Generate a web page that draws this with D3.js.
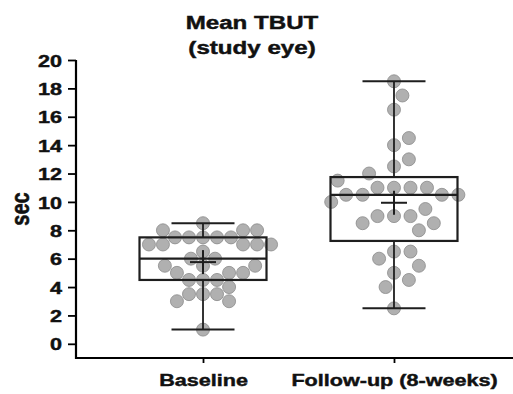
<!DOCTYPE html>
<html lang="en">
<head>
    <meta charset="UTF-8">
    <title>Mean TBUT (study eye)</title>
    <script src="https://d3js.org/d3.v7.min.js"></script>
    <style>
        body {
            margin: 0;
            background: #fff;
        }
        svg text {
            font-family: "Liberation Sans", Arial, sans-serif;
            font-weight: bold;
            fill: #111;
            stroke: #111;
            stroke-width: 0.45px;
        }
    </style>
</head>
<body>
    <div id="chart"></div>

    <script>
        // datos (seg)
        var groups = ["Baseline", "Follow-up (8-weeks)"];
        var baseline = [7.5, 7.5, 7.5, 7.5, 7.5, 4.5, 4.5, 4.5, 8.0, 8.0, 8.0, 5.0, 5.0, 5.0,
                        7.0, 7.0, 7.0, 7.0, 7.0, 6.5, 6.0, 6.0, 5.5, 5.5, 5.5, 8.5, 4.0,
                        3.5, 3.5, 3.5, 3.0, 3.0, 1.0];
        var followUp = [11.0, 11.0, 11.0, 11.0, 10.5, 10.5, 10.5, 10.5, 9.0, 9.0, 9.0, 10.0, 9.5,
                        8.5, 8.5, 8.0, 11.5, 12.0, 12.5, 13.0, 14.0, 14.5, 16.5, 17.5, 18.5,
                        6.5, 6.5, 6.0, 5.5, 5.0, 4.5, 4.0, 2.5];
        var yTicks = [0, 2, 4, 6, 8, 10, 12, 14, 16, 18, 20];
        var titleLines = ["Mean TBUT", "(study eye)"];
        var yLabel = "sec";

        var width = 513;
        var height = 394;
        var sx = 1.27;          // el texto del original es mas ancho
        var r = 6.5;
        var gap = [14, 16.5];   // distancia minima entre puntos en cada grupo

        var svg = d3.select("#chart")
            .append("svg")
            .attr("width", width)
            .attr("height", height);

        var x = d3.scalePoint()
            .domain(groups)
            .range([76, 521])
            .padding(0.665);

        var y = d3.scaleLinear()
            .domain([-1, 20])
            .range([358, 60]);

        // cuartiles como Prism: posicion (n+1)p
        function quart(sorted, p) {
            var pos = (sorted.length + 1) * p;
            var lo = Math.max(1, Math.min(sorted.length, Math.floor(pos)));
            var hi = Math.min(sorted.length, lo + 1);
            var f = pos - Math.floor(pos);
            return sorted[lo - 1] + f * (sorted[hi - 1] - sorted[lo - 1]);
        }

        // beeswarm simple: cada punto va lo mas cerca del centro sin chocar
        function swarm(values, D) {
            var placed = [];
            values.forEach(function(v) {
                var py = y(v);
                var cands = [0];
                placed.forEach(function(p) {
                    var dy = Math.abs(p.y - py);
                    if (dy < D) {
                        var dx = Math.sqrt(D * D - dy * dy);
                        cands.push(p.dx + dx, p.dx - dx);
                    }
                });
                cands.sort(function(a, b) { return Math.abs(a) - Math.abs(b) || b - a; });
                var best = cands.find(function(c) {
                    return placed.every(function(p) {
                        return (p.dx - c) * (p.dx - c) + (p.y - py) * (p.y - py) >= D * D - 0.01;
                    });
                });
                placed.push({ v: v, y: py, dx: best });
            });
            return placed;
        }

        var data = [
            { key: groups[0], values: baseline },
            { key: groups[1], values: followUp }
        ];

        // puntos
        data.forEach(function(g, i) {
            var cx = x(g.key);
            svg.append("g")
                .selectAll("circle")
                .data(swarm(g.values, gap[i]))
                .enter().append("circle")
                .attr("cx", function(d) { return cx + d.dx; })
                .attr("cy", function(d) { return d.y; })
                .attr("r", r)
                .attr("fill", "#7c7c7c")
                .attr("fill-opacity", 0.6)
                .attr("stroke", "#8a8a8a")
                .attr("stroke-width", 0.8);
        });

        // cajas
        var boxW = 127, capW = 63, crossW = 13, crossH = 12;
        data.forEach(function(g) {
            var cx = x(g.key);
            var s = g.values.slice().sort(d3.ascending);
            var q1 = quart(s, 0.25), med = quart(s, 0.5), q3 = quart(s, 0.75);
            var lo = d3.min(s), hi = d3.max(s), mean = d3.mean(s);
            var b = svg.append("g")
                .attr("stroke", "#1e1e1e")
                .attr("fill", "none");

            b.append("line").attr("x1", cx).attr("x2", cx).attr("y1", y(hi)).attr("y2", y(q3)).attr("stroke-width", 1.8);
            b.append("line").attr("x1", cx).attr("x2", cx).attr("y1", y(q1)).attr("y2", y(lo)).attr("stroke-width", 1.8);
            b.append("line").attr("x1", cx - capW / 2).attr("x2", cx + capW / 2).attr("y1", y(hi)).attr("y2", y(hi)).attr("stroke-width", 2);
            b.append("line").attr("x1", cx - capW / 2).attr("x2", cx + capW / 2).attr("y1", y(lo)).attr("y2", y(lo)).attr("stroke-width", 2);
            b.append("rect")
                .attr("x", cx - boxW / 2)
                .attr("y", y(q3))
                .attr("width", boxW)
                .attr("height", y(q1) - y(q3))
                .attr("stroke-width", 2.2);
            b.append("line").attr("x1", cx - boxW / 2).attr("x2", cx + boxW / 2).attr("y1", y(med)).attr("y2", y(med)).attr("stroke-width", 2.2);
            // media
            b.append("line").attr("x1", cx - crossW).attr("x2", cx + crossW).attr("y1", y(mean)).attr("y2", y(mean)).attr("stroke-width", 2);
            b.append("line").attr("x1", cx).attr("x2", cx).attr("y1", y(mean) - crossH).attr("y2", y(mean) + crossH).attr("stroke-width", 2);
        });

        // ejes
        var yAxis = svg.append("g")
            .attr("transform", "translate(76,0)")
            .call(d3.axisLeft(y).tickValues(yTicks).tickSize(8).tickSizeOuter(0));
        yAxis.select(".domain").attr("stroke", "#000").attr("stroke-width", 2.2)
            .attr("d", "M0," + y(20) + "V" + 359);
        yAxis.selectAll(".tick line").attr("stroke", "#000").attr("stroke-width", 1.8);
        yAxis.selectAll(".tick text")
            .attr("x", -11)
            .attr("dy", "0.36em")
            .attr("transform", "scale(" + sx + ",1)")
            .style("font-size", "17px");

        var xAxis = svg.append("g")
            .attr("transform", "translate(0,358)")
            .call(d3.axisBottom(x).tickSize(5).tickSizeOuter(0));
        xAxis.select(".domain").attr("stroke", "#000").attr("stroke-width", 2.2)
            .attr("d", "M75,0H521");
        xAxis.selectAll(".tick line").attr("stroke", "#000").attr("stroke-width", 1.8);
        xAxis.selectAll(".tick text")
            .attr("y", 28)
            .attr("dy", 0)
            .attr("transform", "scale(" + sx + ",1)")
            .style("font-size", "17px");

        // titulo
        titleLines.forEach(function(t, i) {
            svg.append("text")
                .attr("transform", "translate(252," + (29 + i * 25) + ") scale(" + sx + ",1)")
                .attr("text-anchor", "middle")
                .style("font-size", "19px")
                .text(t);
        });

        svg.append("text")
            .attr("transform", "translate(29,209) rotate(-90) scale(1," + sx + ")")
            .attr("text-anchor", "middle")
            .style("font-size", "20px")
            .text(yLabel);
    </script>
</body>
</html>
